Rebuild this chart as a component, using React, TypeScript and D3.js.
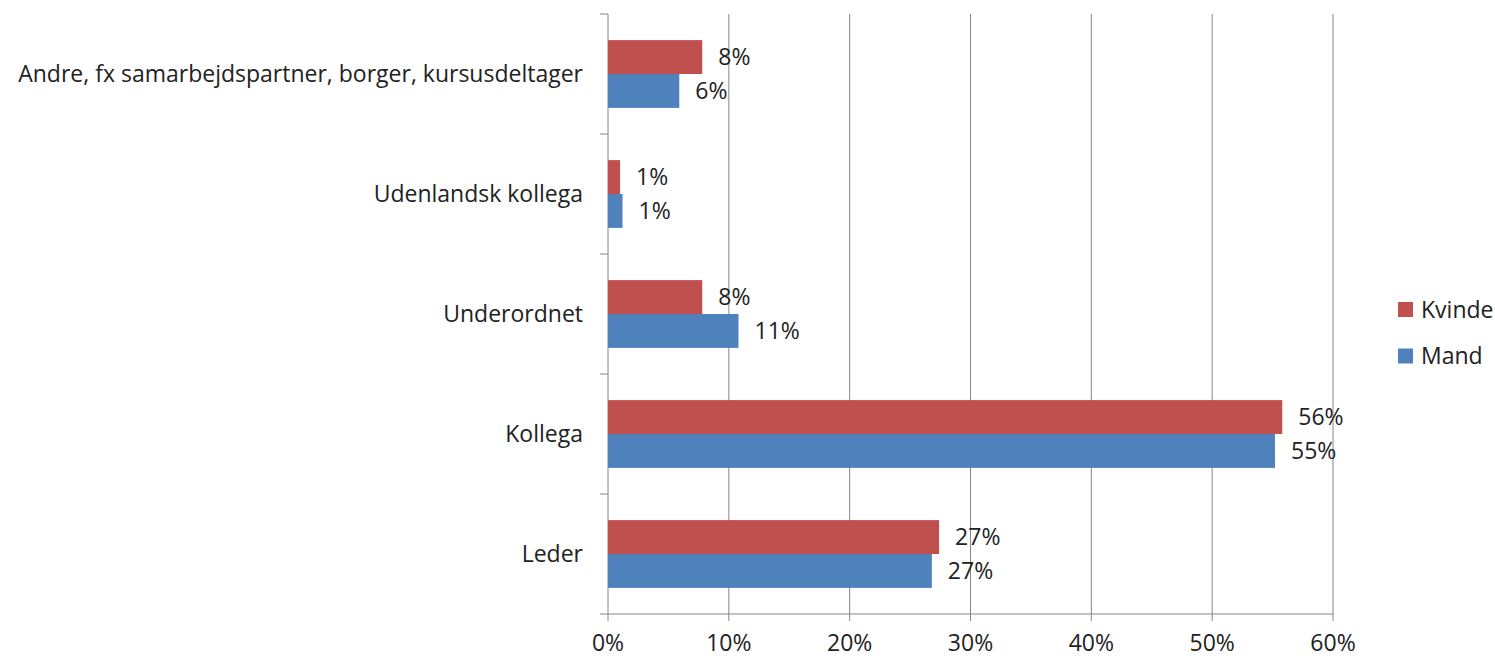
import { useEffect, useRef } from "react";
import * as d3 from "d3";

const categories = [
  "Andre, fx samarbejdspartner, borger, kursusdeltager",
  "Udenlandsk kollega",
  "Underordnet",
  "Kollega",
  "Leder",
];
const series = ["Kvinde", "Mand"];
const kvinde = [7.8, 1.0, 7.8, 55.8, 27.4];
const mand = [5.9, 1.2, 10.8, 55.2, 26.8];
const kvindeLabels = ["8%", "1%", "8%", "56%", "27%"];
const mandLabels = ["6%", "1%", "11%", "55%", "27%"];
const xTicks = [0, 10, 20, 30, 40, 50, 60];
const colors = ["#C0504D", "#4F81BD"];

const W = 1495,
  H = 658;
const font = "'Open Sans', Lato, sans-serif";
const fs = 23;

export default function App() {
  const ref = useRef<SVGSVGElement>(null);

  useEffect(() => {
    const svg = d3.select(ref.current);
    svg.selectAll("*").remove();

    const left = 608,
      right = 1333,
      top = 14,
      bottom = 614;

    const x = d3.scaleLinear().domain([0, 60]).range([left, right]);
    const y = d3.scaleBand<string>().domain(categories).range([top, bottom]);
    const inner = d3
      .scaleBand<string>()
      .domain(series)
      .range([0, y.bandwidth()])
      .paddingOuter(0.77)
      .paddingInner(0);

    // gridlines
    svg
      .append("g")
      .selectAll("line")
      .data(xTicks.slice(1))
      .enter()
      .append("line")
      .attr("x1", (d) => x(d))
      .attr("x2", (d) => x(d))
      .attr("y1", top)
      .attr("y2", bottom)
      .attr("stroke", "#868686")
      .attr("stroke-width", 1);

    // axes
    svg
      .append("line")
      .attr("x1", left)
      .attr("x2", left)
      .attr("y1", top)
      .attr("y2", bottom)
      .attr("stroke", "#868686");
    svg
      .append("line")
      .attr("x1", left)
      .attr("x2", right)
      .attr("y1", bottom)
      .attr("y2", bottom)
      .attr("stroke", "#868686");

    const yTickPos = categories.map((c) => y(c)!).concat([bottom]);
    svg
      .append("g")
      .selectAll("line")
      .data(yTickPos)
      .enter()
      .append("line")
      .attr("x1", left - 8)
      .attr("x2", left)
      .attr("y1", (d) => d)
      .attr("y2", (d) => d)
      .attr("stroke", "#868686");

    svg
      .append("g")
      .selectAll("line")
      .data(xTicks)
      .enter()
      .append("line")
      .attr("x1", (d) => x(d))
      .attr("x2", (d) => x(d))
      .attr("y1", bottom)
      .attr("y2", bottom + 7)
      .attr("stroke", "#868686");

    svg
      .append("g")
      .selectAll("text")
      .data(xTicks)
      .enter()
      .append("text")
      .attr("x", (d) => x(d))
      .attr("y", 651)
      .attr("text-anchor", "middle")
      .attr("font-family", font)
      .attr("font-size", fs)
      .attr("fill", "#222")
      .text((d) => `${d}%`);

    svg
      .append("g")
      .selectAll("text")
      .data(categories)
      .enter()
      .append("text")
      .attr("x", 583)
      .attr("y", (d) => y(d)! + y.bandwidth() / 2)
      .attr("dy", "0.35em")
      .attr("text-anchor", "end")
      .attr("font-family", font)
      .attr("font-size", fs)
      .attr("fill", "#222")
      .text((d) => d);

    const data = [kvinde, mand];
    const labels = [kvindeLabels, mandLabels];
    series.forEach((s, si) => {
      const g = svg.append("g");
      g.selectAll("rect")
        .data(categories)
        .enter()
        .append("rect")
        .attr("x", left)
        .attr("y", (c) => y(c)! + inner(s)!)
        .attr("width", (c, i) => x(data[si][i]) - left)
        .attr("height", inner.bandwidth())
        .attr("fill", colors[si]);
      g.selectAll("text")
        .data(categories)
        .enter()
        .append("text")
        .attr("x", (c, i) => x(data[si][i]) + 16)
        .attr("y", (c) => y(c)! + inner(s)! + inner.bandwidth() / 2)
        .attr("dy", "0.35em")
        .attr("font-family", font)
        .attr("font-size", fs)
        .attr("fill", "#222")
        .text((c, i) => labels[si][i]);
    });

    // legend
    const legend = svg
      .append("g")
      .selectAll("g")
      .data(series)
      .enter()
      .append("g")
      .attr("transform", (d, i) => `translate(1398, ${302 + i * 46.5})`);
    legend
      .append("rect")
      .attr("width", 15)
      .attr("height", 15)
      .attr("fill", (d, i) => colors[i]);
    legend
      .append("text")
      .attr("x", 23)
      .attr("y", 7.5)
      .attr("dy", "0.35em")
      .attr("font-family", font)
      .attr("font-size", fs)
      .attr("fill", "#222")
      .text((d) => d);
  }, []);

  return (
    <svg
      ref={ref}
      width={W}
      height={H}
      style={{ position: "absolute", left: 0, top: 0, background: "#fff" }}
    />
  );
}
